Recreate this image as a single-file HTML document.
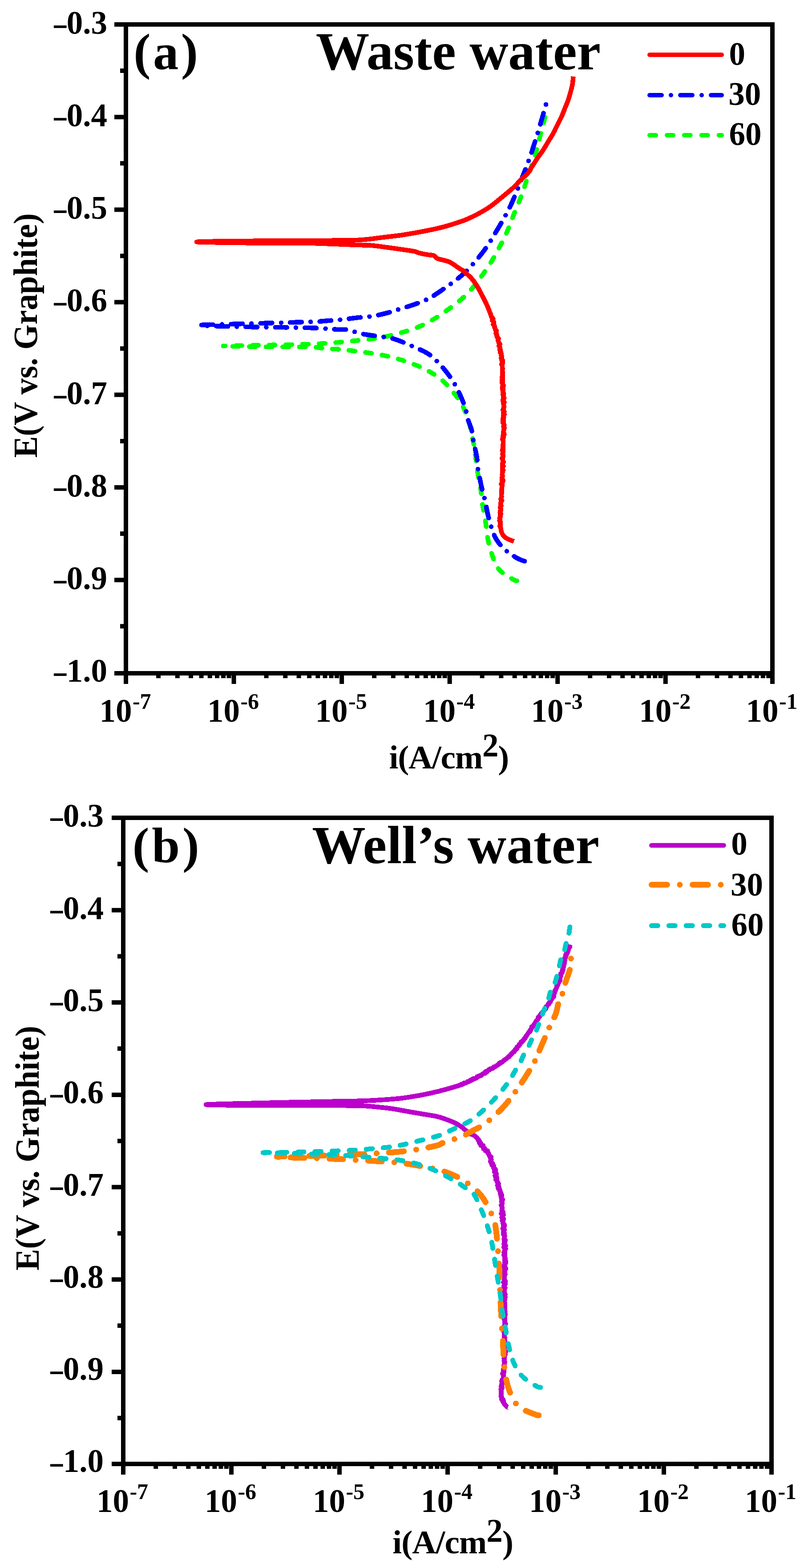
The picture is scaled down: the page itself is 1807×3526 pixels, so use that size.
<!DOCTYPE html>
<html><head><meta charset="utf-8"><title>Potentiodynamic polarization curves</title>
<style>html,body{margin:0;padding:0;background:#fff;overflow:hidden;}body{width:1807px;height:3526px;}svg{display:block;}</style>
</head><body>
<svg width="1807" height="3526" viewBox="0 0 1807 3526" font-family="Liberation Serif, Times New Roman, serif" font-weight="bold">
<rect width="1807" height="3526" fill="#fff"/>
<path d="M1161.8 1306C1160.3 1305.5 1159.5 1307 1152.7 1302.7C1145.9 1298.4 1129 1289.7 1121 1280C1113 1270.3 1109.2 1256.5 1105 1244.8C1100.8 1233 1098.3 1221.8 1096 1209.5C1093.7 1197.2 1092.9 1183.5 1091 1171C1089.1 1158.5 1086.3 1147 1084.5 1134.5C1082.7 1122 1081.9 1108.5 1080 1096C1078.1 1083.5 1075 1072.2 1073 1059.5C1071 1046.8 1069.9 1032.6 1068 1019.5C1066.1 1006.4 1064 993.5 1061.4 981C1058.8 968.5 1056.1 956.2 1052.3 944.5C1048.5 932.8 1044.6 921.5 1038.6 910.5C1032.5 899.5 1024.3 888.5 1016 878.6C1007.7 868.7 998.6 859 988.6 851C978.6 843 967.1 836.4 955.7 830.5C944.4 824.6 932.5 820.1 920.5 815.7C908.5 811.3 896.5 807.6 884 804.3C871.5 801 858.4 798.3 845.5 796C832.6 793.7 819.7 792.4 806.8 790.7C793.9 789 780.9 787.1 768 786C755.1 784.9 740.8 784.8 729.5 783.9C718.2 783 721.6 781.1 700 780.5C678.4 779.9 633 780.3 600 780C567 779.7 518.3 778.8 502 778.5" fill="none" stroke="#00ff00" stroke-width="10.5" stroke-linecap="round" stroke-linejoin="round" stroke-dasharray="13.5 23.9" stroke-dashoffset="0" shape-rendering="crispEdges"/>
<path d="M1225 263.6C1223.5 269.3 1219.2 285.2 1216 297.7C1212.8 310.2 1209.3 325.7 1205.7 338.6C1202.1 351.5 1198.3 362.9 1194.3 375C1190.3 387.1 1185.6 400 1181.8 411C1178 422 1176.1 429.2 1171.6 441C1167.1 452.8 1160.1 469 1155 481.8C1149.9 494.6 1145.9 506.6 1141 518C1136.1 529.4 1131.2 539 1125.5 550C1119.8 561 1113.8 572.7 1107 584C1100.2 595.3 1092 607.4 1084.5 618C1077 628.6 1070.1 638.2 1061.8 647.7C1053.5 657.2 1044.8 666.1 1034.5 675C1024.2 683.9 1010.3 693.7 1000 701C989.7 708.3 982.9 713.2 972.7 719C962.5 724.8 950.7 731.1 938.6 736C926.5 740.9 912.5 745 900 748.6C887.5 752.2 876.1 755.2 863.6 757.7C851.1 760.2 837.9 761.8 825 763.4C812.1 765 799.6 766 786.4 767.3C773.1 768.6 759.9 770 745.5 771C731.1 772 724.2 772.8 700 773.6C675.8 774.4 633 775.3 600 776C567 776.7 518.3 777.7 502 778" fill="none" stroke="#00ff00" stroke-width="10.5" stroke-linecap="round" stroke-linejoin="round" stroke-dasharray="13.5 23.9" stroke-dashoffset="0" shape-rendering="crispEdges"/>
<path d="M1179 1262C1176.1 1260.8 1169.2 1259.4 1161.8 1255C1154.4 1250.6 1142.3 1242.9 1134.5 1235.7C1126.7 1228.5 1120.1 1220.5 1115 1212C1109.9 1203.5 1107.2 1194 1104 1184.5C1100.8 1175 1098.3 1164.8 1096 1155C1093.7 1145.2 1092.3 1135.7 1090 1125.5C1087.7 1115.3 1084.7 1105.7 1082 1093.6C1079.3 1081.5 1075.7 1063.3 1074 1052.7C1072.3 1042.1 1073 1037.1 1072 1030C1071 1022.9 1069.4 1016.7 1068 1010C1066.6 1003.3 1064.9 997.2 1063.6 990C1062.3 982.8 1061.9 974.6 1060 967C1058.1 959.4 1054.7 952.8 1052.3 944.5C1049.9 936.2 1048.4 926.1 1045.5 917C1042.6 907.9 1038.8 898.7 1035 890C1031.2 881.3 1027.4 873.2 1022.7 865C1018 856.8 1012.8 849 1006.8 841C1000.8 833 993.6 824.2 986.4 816.8C979.2 809.4 972.3 802.3 963.6 796.4C954.9 790.5 944.3 786.3 934 781.6C923.7 776.9 911.5 771.6 902 768C892.5 764.4 888 762.3 877 760C866 757.7 847.3 756 836 754.3C824.7 752.6 818 751.9 809 749.8C800 747.7 791.1 743.3 781.8 741.8C772.5 740.3 767 741.5 753.4 740.7C739.8 740 733.9 738.2 700 737.3C666.1 736.3 592.3 735.9 550 735C507.7 734.1 463.3 732.5 446 732" fill="none" stroke="#0000ff" stroke-width="10.5" stroke-linecap="round" stroke-linejoin="round" stroke-dasharray="26 20.2 0 20.2" stroke-dashoffset="0" shape-rendering="crispEdges"/>
<path d="M1227 235C1224.8 242.8 1219.3 263.2 1213.6 282C1207.9 300.8 1200 327.3 1193 347.7C1186 368.1 1179.1 385.6 1171.6 404.5C1164.1 423.4 1156.4 443.6 1148 461.4C1139.6 479.1 1131.6 493.2 1121 511C1110.4 528.8 1098.2 550.2 1084.5 568C1070.8 585.8 1055.3 603.2 1039 618C1022.7 632.8 1000.1 647.5 986.8 656.8C973.5 666.1 969 668.7 959 673.6C949 678.5 937.2 682.4 927 686C916.8 689.6 907.5 692.2 897.7 695.2C887.9 698.2 878.3 701.7 868 704.3C857.7 706.9 847 709.3 836 711C825 712.7 813.3 713.2 802 714.5C790.7 715.8 779.3 717.5 768 718.6C756.7 719.8 745.3 720.6 734 721.4C722.7 722.2 730.7 722.5 700 723.6C669.3 724.7 592.3 726.8 550 728C507.7 729.2 463.3 730.5 446 731" fill="none" stroke="#0000ff" stroke-width="10.5" stroke-linecap="round" stroke-linejoin="round" stroke-dasharray="26 20.2 0 20.2" stroke-dashoffset="46.2" shape-rendering="crispEdges"/>
<path d="M1155 1217.5C1152 1216.2 1141.3 1212.8 1136.8 1209.5C1132.2 1206.2 1129.8 1203.3 1127.7 1198C1125.6 1192.7 1124.9 1184.9 1124.3 1177.7C1123.7 1170.5 1123.9 1164.5 1124.3 1155C1124.7 1145.5 1125.8 1134.2 1126.6 1121C1127.4 1107.8 1128.3 1090.7 1128.9 1075.5C1129.5 1060.3 1129.7 1042.4 1130 1030C1130.3 1017.6 1130.4 1011.5 1130.7 1001C1131 990.5 1131.6 978.3 1131.8 967C1132 955.7 1131.8 944.3 1131.8 933C1131.8 921.7 1132 908.5 1131.8 899C1131.6 889.5 1131.1 885.5 1130.7 876C1130.3 866.5 1129.9 853.3 1129.5 842C1129.1 830.7 1128.9 815.8 1128.4 808C1127.9 800.2 1127.4 800.6 1126.4 795.5C1125.5 790.4 1124.1 783.4 1122.7 777.3C1121.3 771.2 1119.7 765 1118.2 759C1116.7 753 1115.3 747 1113.6 741C1111.9 735 1110.2 728.8 1108.2 722.7C1106.2 716.6 1104.1 710.5 1101.8 704.5C1099.5 698.5 1097.2 692.4 1094.5 686.4C1091.8 680.4 1088.8 674.7 1085.5 668.2C1082.2 661.7 1078.3 653.8 1074.5 647.3C1070.7 640.8 1066.5 634.3 1062.7 629.5C1059 624.7 1055.6 621.9 1052 618.5C1048.4 615.1 1044.8 611.6 1041.3 609C1037.8 606.4 1034.2 604.9 1030.7 602.6C1027.2 600.3 1023.5 597.3 1020 595C1016.5 592.7 1013 590.4 1009.5 588.8C1006 587.2 1003.4 586.8 999 585.6C994.6 584.4 987.1 583.2 983 581.4C978.9 579.5 978 575.9 974.5 574.5C971 573.1 967.4 573.9 961.8 572.9C956.1 571.9 945.9 569.9 940.6 568.6C935.3 567.3 939.8 566.8 930 565C920.2 563.2 897.7 560.2 882 558C866.3 555.8 848.9 553.2 836 552C823.1 550.8 827.2 551.8 804.5 551C781.8 550.2 727.4 547.7 700 547C672.6 546.3 668.3 547.2 640 547C611.7 546.8 563 546.5 530 546C497 545.5 442 544.7 442 544C442 543.3 487 542.5 530 542C573 541.5 654.2 541.4 700 541C745.8 540.6 778 541 804.5 539.8C831 538.6 842.3 535.9 859 534C875.7 532.1 889.3 530.6 904.5 528.4C919.7 526.1 935.8 523.2 950 520.5C964.2 517.8 978.3 514.9 990 512C1001.7 509.1 1010.5 506.4 1020 503.4C1029.5 500.4 1038.2 497.6 1047.3 493.9C1056.4 490.1 1065.4 485.8 1074.5 480.9C1083.6 476 1092.7 470.9 1101.8 464.5C1110.9 458.1 1120 450.2 1129.1 442.7C1138.2 435.2 1149.6 425.9 1156.4 419.5C1163.2 413.1 1165.1 409.4 1170 404.5C1174.9 399.6 1181.7 395 1186 390C1190.3 385 1192.1 380.1 1195.8 374.4C1199.5 368.7 1203.8 361.9 1208 355.7C1212.2 349.5 1217 343.2 1221 337C1225 330.8 1228.5 324.6 1232.2 318.4C1235.9 312.2 1240 306 1243.4 299.8C1246.8 293.6 1249.6 287.4 1252.7 281.2C1255.8 275 1259.2 268.7 1262 262.5C1264.8 256.3 1267 250.1 1269.5 243.9C1272 237.7 1274.7 231.4 1276.9 225.2C1279.1 219 1280.9 212.5 1282.5 206.6C1284.1 200.7 1285.5 195.8 1286.5 190C1287.5 184.2 1288.2 175 1288.6 172" fill="none" stroke="#ff0000" stroke-width="10.5" stroke-linecap="butt" stroke-linejoin="round" shape-rendering="crispEdges"/>
<path d="M1101.4 700.3 1101.3 703.6 1103.1 706.2 1103.1 709.4 1104.1 712.3 1107.4 714.4 1108.6 717.2 1106.2 721.2 1109.5 723.3 1110.5 726.2 1108.2 730.1 1111.3 732.3 1110.6 735.6 1112.9 738.1 1113 741.2 1115.9 743.6 1114.6 747.2 1114.4 750.4 1116.6 753 1116.4 756.2 1117.5 759.2 1120.8 761.6 1118.6 765.4 1120.1 768.2 1122.1 771 1124 773.8 1121.1 777.7 1123.5 780.4 1123.1 783.8 1123.1 787.1 1124.4 790 1124.1 793.1 1126.9 795.4 1125.7 798.8 1128 801.5 1126.2 804.9 1126.7 808.1 1130.3 810.9 1130.3 813.5 1130 816.4 1126.8 819.5 1129.3 822.6 1128.5 825.8 1130 829.1 1129.2 832.4 1129.8 835.7 1130.1 838.9 1129.1 842 1129.2 845.1 1127.9 848.2 1129 851.3 1128 854.5 1128.5 857.7 1128 860.8 1129.5 863.8 1131.8 866.8 1128.9 869.8 1128.5 872.6 1128.9 875.2 1130.5 878.4 1130 881.6 1132.4 884.3 1129.8 887.1 1131.1 889.7 1132.5 892.5 1133.6 895.5 1130.2 899 1129.7 901.6 1133.7 904.3 1130.6 907.2 1132.3 910.2 1133.4 913.2 1132.8 916.4 1130.7 919.5 1130.2 922.7 1133.8 925.8 1131.3 928.9 1133.8 932 1130.8 935 1132.6 938 1130.1 941 1129.7 944 1131.8 947 1129.7 950 1132.7 953 1133.7 956 1131.4 959 1133.9 962 1133.2 965 1132.2 968 1131.2 971 1133.2 974.1 1133.6 977.2 1129.8 980.2 1132.2 983.3 1129.2 986.3 1129.4 989.3 1131.5 992.4 1131.1 995.3 1130.7 998.2 1130.1 1001 1130.2 1004.1 1130.3 1007 1129.9 1009.8 1128.5 1012.5 1130.3 1015.2 1130.6 1018 1129.2 1020.9 1131.3 1024.1 1130.9 1027.5 1127.9 1030.8 1129.8 1033.4 1129.7 1036.2 1132 1039 1130.1 1041.9 1129.3 1045 1131.7 1048.1 1129.1 1051.2 1128.9 1054.4 1131.4 1057.6 1128.8 1060.8 1129.4 1064 1128.4 1067.2 1129.7 1070.4 1128.1 1073.4 1127.8 1076.5 1130.8 1079.7 1130.5 1082.8 1127.7 1085.8 1126.3 1088.9 1129.3 1092.2 1128.2 1095.3 1127.4 1098.4 1128.5 1101.6 1128.1 1104.7 1128.2 1107.7 1127.8 1110.7 1126.6 1113.6 1127.7 1116.5 1127.2 1119.2 1125.3 1122.1 1128.4 1125.7 1125.8 1128.9 1124.8 1132.1 1126.5 1135.4 1126.6 1138.5 1123.8 1141.3 1126.1 1144.4 1126.1 1147.2 1124.9 1149.8 1123.5 1152.4 1126.1 1155.1 1124.9 1158.7 1124.8 1162.1 1122.5 1165.2 1124.2 1168.2 1122.4 1171.1 1125.5 1173.8 1124.9 1176.7 1123.8 1179.9 1123.1 1183.3 1125.4 1186.4 1126.8 1189.4" fill="none" stroke="#ff0000" stroke-width="10" stroke-linejoin="round" shape-rendering="crispEdges"/>
<path d="M1142 3164C1141.4 3163.8 1140.9 3165.8 1138.6 3163C1136.3 3160.2 1130.3 3153.8 1128.4 3147C1126.5 3140.2 1126.6 3129.9 1127 3122C1127.4 3114.1 1129.5 3108.9 1130.7 3099.5C1131.9 3090.1 1133.5 3081.9 1134 3065.5C1134.5 3049.1 1133.9 3021.2 1134 3001C1134.1 2980.8 1134.6 2961.5 1134.5 2944.5C1134.4 2927.5 1133.4 2914.2 1133.4 2899C1133.4 2883.8 1134.3 2868.8 1134.5 2853.6C1134.7 2838.4 1134.7 2821.3 1134.5 2808C1134.3 2794.7 1134.2 2784.4 1133.4 2774C1132.7 2763.6 1130.8 2754.5 1130 2745.5C1129.2 2736.5 1129 2728.2 1128.5 2720C1128 2711.8 1128 2702.4 1127.3 2696.4C1126.6 2690.4 1125.4 2688.3 1124.5 2684C1123.6 2679.7 1122.9 2675 1121.8 2670.5C1120.7 2666 1118.8 2661.4 1117.7 2656.8C1116.6 2652.2 1116.1 2647.8 1115 2643.2C1113.9 2638.6 1112.6 2634 1111 2629.5C1109.4 2625 1107.1 2620.5 1105.5 2616C1103.9 2611.5 1103.5 2607.1 1101.4 2602.3C1099.4 2597.5 1096.2 2591.6 1093.2 2587.3C1090.2 2583 1086.5 2580.5 1083.6 2576.4C1080.6 2572.3 1078.2 2566.3 1075.5 2562.7C1072.8 2559 1070.5 2556.8 1067.3 2554.5C1064.1 2552.2 1060 2551.2 1056.4 2549C1052.8 2546.8 1048.7 2543.5 1045.5 2541C1042.3 2538.5 1041.4 2536.8 1037.3 2534C1033.2 2531.2 1027.1 2527.4 1021 2524.5C1014.9 2521.6 1007.3 2518.8 1000.5 2516.4C993.7 2514 987.6 2511.9 980 2510.2C972.4 2508.5 964.1 2507.5 955 2506C945.9 2504.5 938 2503.2 925.5 2501C913 2498.8 892 2494.8 880 2493C868 2491.2 864.1 2491 853.6 2490C843.1 2489 835.9 2487.5 817 2486.8C798.1 2486.1 776.2 2486.1 740 2486C703.8 2485.9 646.2 2486.3 600 2486C553.8 2485.7 463 2485 463 2484C463 2483 553.8 2481.2 600 2480C646.2 2478.8 703.8 2477.8 740 2477C776.2 2476.2 796.5 2476.2 817 2475.5C837.5 2474.8 849 2473.9 862.7 2473C876.4 2472.1 887.3 2471.3 899 2470C910.7 2468.7 921.7 2466.9 933 2465C944.3 2463.1 955.7 2460.9 967 2458.4C978.3 2455.9 988.8 2453.4 1001 2450C1013.2 2446.6 1028.5 2442.4 1040 2438C1051.5 2433.6 1060.2 2429 1070.3 2423.6C1080.4 2418.2 1091.8 2410.8 1100.6 2405.5C1109.4 2400.2 1115.7 2397.1 1123.3 2391.8C1130.9 2386.5 1138.4 2380.9 1146 2373.6C1153.6 2366.3 1162.5 2355.5 1168.8 2347.9C1175.1 2340.3 1179 2335.1 1184 2328C1189 2320.9 1194 2312.8 1199 2305.5C1204 2298.2 1210.5 2289 1214.2 2284C1217.9 2279 1217.9 2279.9 1221 2275.5C1224.1 2271.1 1229.2 2262.6 1232.7 2257.3C1236.2 2252 1239.1 2248.9 1241.8 2243.6C1244.5 2238.3 1246.6 2231.6 1249 2225.5C1251.4 2219.4 1254.3 2213.4 1256.4 2207.3C1258.5 2201.2 1260 2195.1 1261.8 2189C1263.6 2182.9 1265.8 2177.1 1267.3 2171C1268.8 2164.9 1269.4 2158.2 1271 2152.7C1272.6 2147.2 1275.3 2142.8 1277 2138C1278.7 2133.2 1280.3 2126.3 1281 2124" fill="none" stroke="#bb00cc" stroke-width="10.7" stroke-linecap="butt" stroke-linejoin="round" shape-rendering="crispEdges"/>
<path d="M1073.5 2561.3 1074.9 2564.3 1076.1 2566.9 1076.9 2570.1 1079.6 2572.5 1080.4 2576 1086.4 2575.6 1086.4 2579.5 1086.5 2583.6 1089.9 2584.5 1090.7 2587.8 1096.1 2587.7 1096 2591.4 1098.7 2593.5 1098.6 2597.1 1099.8 2599.9 1104 2601.2 1104.1 2604.8 1104.6 2607.9 1101.8 2611.8 1103.4 2614.5 1107.7 2616.3 1105.4 2620.5 1110.2 2621.9 1108.9 2625.9 1112.7 2627.8 1114.4 2630.5 1110.5 2635 1115.1 2636.9 1115.9 2639.8 1112.3 2643.8 1113.6 2646.8 1117.5 2649.3 1114.2 2653.1 1117.2 2655.8 1117.2 2659 1120.8 2661.2 1117.6 2665.4 1119.9 2667.9 1119.2 2671.2 1120.3 2674.1 1124.3 2676.6 1124.5 2679.8 1126.2 2682.6 1127 2685.5 1128.2 2688 1127.6 2691.2 1126.5 2695.1 1130.3 2697.8 1126.6 2700.8 1128.8 2703.7 1129.1 2706.8 1126.2 2710.2 1128.3 2713.4 1129.4 2716.7 1128.6 2720 1127.5 2723 1131.4 2725.8 1126.2 2729 1131.9 2731.8 1127.8 2735.1 1127.4 2738.2 1132.4 2741 1128.2 2744.6 1131 2747.3 1130.1 2750.4 1133.7 2752.9 1133.9 2755.9 1133.6 2759 1129.5 2762.6 1134.3 2765.2 1131.4 2768.7 1130.7 2772 1130.9 2775.1 1134.5 2777.6 1134.6 2780.4 1133.8 2783.2 1132.4 2786.1 1136.4 2788.9 1132.8 2791.9 1132.6 2795 1132.3 2798.1 1137.1 2801.2 1131.9 2804.6 1136.9 2808 1135.5 2810.7 1133.9 2813.5 1132.2 2816.4 1135.5 2819.3 1132.2 2822.4 1134.4 2825.4 1135.7 2828.5 1135.7 2831.7 1136.5 2834.8 1137.1 2838 1136.6 2841.2 1133.5 2844.3 1131.7 2847.4 1136.5 2850.6 1137.1 2853.6 1131.6 2856.6 1134.2 2859.7 1134.9 2862.7 1135.8 2865.8 1133.6 2868.7 1132.1 2871.7 1134.2 2874.8 1134.3 2877.8 1136.3 2880.9 1131.2 2883.8 1136.3 2887 1133.5 2889.9 1131.5 2892.9 1135.6 2896 1132.1 2899 1130.8 2902 1132.7 2905 1131.8 2908 1135.9 2910.8 1134 2913.7 1135.8 2916.6 1131.9 2919.7 1135.2 2922.5 1134.3 2925.5 1131.3 2928.6 1132.2 2931.6 1131.6 2934.8 1134.7 2937.9 1134.5 2941.1 1133.2 2944.5 1134.6 2947.3 1135.7 2950 1135.1 2952.9 1136.5 2955.7 1135.2 2958.6 1131.6 2961.5 1131.7 2964.5 1133.6 2967.5 1134.3 2970.5 1135.2 2973.6 1136.6 2976.7 1135.5 2979.8 1132.5 2982.9 1132 2986 1134.9 2989.2 1132.4 2992.4 1132.4 2995.6 1132.9 2998.8 1133 3001.9 1132.5 3004.9 1134.8 3007.9 1132.8 3011 1135.3 3014.1 1134.1 3017.3 1132.5 3020.5 1133 3023.8 1135.3 3027 1131.6 3030.3 1133.3 3033.6 1133.7 3036.8 1137 3040 1133.9 3043.2 1135.7 3046.3 1133.2 3049.3 1134.4 3052.3 1132.4 3055.2 1133.3 3057.9 1132.4 3060.6 1135 3063.1 1133.1 3066.9 1132.5 3069.6 1131.8 3072.1 1134.3 3075.9 1131.2 3079 1130.8 3082 1131.5 3085 1129.5 3087.5 1129.3 3090.1 1131.5 3092.9 1131 3096.2 1132.6 3099.8 1128.2 3102.8 1127.1 3105.9 1129.1 3109.4 1127.3 3112 1126.6 3114.8 1126 3117.7 1129 3121.1 1125.3 3123.9 1126.3 3127 1125.8 3130.1 1127.2 3133.3 1126.2 3136.5 1125.5 3139.7 1126.7 3142.7 1126.7 3145.6 1131.3 3147.2 1132 3150.6 1132.3 3154.4 1133.4 3157.9 1137.3 3158.9" fill="none" stroke="#bb00cc" stroke-width="10" stroke-linejoin="round" shape-rendering="crispEdges"/>
<path d="M1034.3 2439.3 1036.9 2437.7 1040.2 2438.6 1042.4 2435.2 1046.1 2435.7 1048.7 2433.9 1050.9 2431.5 1054.4 2431.9 1056.2 2428.9 1059.5 2429 1061.5 2426.3 1064.1 2425 1067.4 2424.8 1070.9 2424.7 1072.2 2420.9 1075 2419.7 1078.5 2419.5 1081.9 2419 1083.8 2416.1 1086.2 2413.9 1090 2414.2 1090.7 2409.4 1094.9 2410.6 1096.2 2407.2 1098.3 2405.2 1100.8 2403.6 1104.1 2402.5 1107.9 2402.7 1109.2 2399 1112.6 2398.9 1115.2 2397.7 1117.1 2395.3 1120 2394.3 1121.4 2391 1123.8 2389.3 1126.5 2388.1 1130 2387.9 1131.7 2385.3 1133.8 2383.2 1136.8 2382.2 1138.8 2379.8 1140.8 2377.3 1144.4 2376.7 1146.6 2374.2 1147.3 2370.9 1150.3 2369.6 1152.3 2367.3 1155.5 2365.9 1157.2 2363.1 1157.9 2359.5 1162.1 2358.9 1161.5 2354.3 1164.3 2352.7 1167.3 2351.4 1167.2 2347.7 1170.2 2346.1 1170.9 2342.4 1174.8 2341.6 1176.9 2339.5 1178 2336.8 1180.6 2335.2 1180.5 2331.6 1183.4 2330.1 1184.9 2327.4 1186.5 2325 1187.8 2322.2 1190.7 2320.6 1192.7 2318.2 1192.8 2314.7 1195.1 2312.5 1194.7 2308.7 1198.6 2307.6 1200.1 2305 1203 2303.1 1204.4 2300 1204.5 2296.1 1206.7 2293.6 1209.5 2291.7 1209.2 2287.7 1212.2 2286.5 1213.1 2283.2 1214.8 2280.7 1216.5 2278.4 1220.3 2278.3 1219.8 2274.6 1221.6 2272.8 1223.7 2270.6 1227.1 2268.9 1226.2 2264.4 1229.2 2262.3 1231.3 2259.9 1234 2258.1 1235.6 2255.2 1237.6 2252.9 1237.4 2249.2 1239.4 2247 1240.8 2244.3 1244 2242.5 1245.5 2239.9 1243.7 2235.8 1244.8 2232.9 1246.1 2230 1247.2 2227 1249.3 2224.5 1250.9 2221.8 1250.9 2218.4 1251.2 2215.2 1253.9 2212.9 1254.9 2210 1256.7 2207.4 1259.1 2205 1259 2201.7 1259.1 2198.6 1260.3 2195.9 1261.4 2193 1259.8 2189.5 1263.9 2187.5 1264.4 2184.3 1265.8 2181.5 1266.4 2178.4 1265.8 2174.9 1266.6 2171.9 1266.2 2168.6 1268.9 2165.9 1267.2 2162.4 1267.8 2159.3 1268.9 2156.3 1269.4 2153.3 1271.1 2150.3 1271.3 2146.8 1272.4 2143.8 1274.2 2141.2 1275.2 2138.4 1277.2 2135.7 1276.9 2131.9 1281.1 2129.4 1280.9 2126.2" fill="none" stroke="#bb00cc" stroke-width="10" stroke-linejoin="round" shape-rendering="crispEdges"/>
<path d="M1211 3182.5C1209.9 3182.3 1210.9 3183.9 1204.5 3181.4C1198.1 3178.9 1181 3173 1172.7 3167.7C1164.4 3162.4 1159 3155.9 1154.5 3149.5C1150 3143.1 1148.2 3136.2 1145.5 3129C1142.8 3121.8 1140.7 3116.6 1138.6 3106.4C1136.5 3096.2 1134.3 3081.8 1133 3067.7C1131.7 3053.6 1131.4 3036.1 1130.5 3021.8C1129.6 3007.5 1128.5 2995.6 1127.7 2982C1126.9 2968.4 1126.2 2954.2 1125.5 2940C1124.8 2925.8 1124.2 2911.6 1123.6 2896.8C1123 2882 1122.8 2865.4 1122 2851C1121.2 2836.6 1120 2823.2 1119 2810.5C1118 2797.8 1117.2 2785.1 1116 2775C1114.8 2764.9 1113.8 2757.4 1112 2750C1110.2 2742.6 1109 2739.4 1105 2730.7C1101 2722 1093.4 2706.4 1088 2697.7C1082.6 2689 1078.5 2684.5 1072.7 2678.6C1066.9 2672.7 1059.8 2667.3 1053 2662.3C1046.2 2657.3 1041.2 2653.4 1031.8 2648.6C1022.4 2643.8 1006.9 2637.2 996.4 2633.6C985.9 2630 981.2 2629.6 968.6 2627C956 2624.4 937.3 2620.4 921 2618C904.7 2615.6 899.5 2614.7 871 2612.7C842.5 2610.7 791.5 2607.8 750 2606C708.5 2604.2 643.3 2602.7 622 2602" fill="none" stroke="#ff8000" stroke-width="13" stroke-linecap="round" stroke-linejoin="round" stroke-dasharray="31 28 0 28" stroke-dashoffset="0" shape-rendering="crispEdges"/>
<path d="M1283.2 2155.5h0.01M1280.6 2180.7L1280.6 2180.7L1280.5 2181.2L1280.3 2181.6L1280.2 2182.1L1280.1 2182.6L1279.9 2183L1279.8 2183.5L1279.6 2184L1279.5 2184.5L1279.4 2184.9L1279.2 2185.4L1279 2185.9L1278.9 2186.4L1278.7 2186.9L1278.6 2187.4L1278.4 2187.9L1278.2 2188.4L1278 2188.9L1277.9 2189.4L1277.7 2189.9L1277.5 2190.4L1277.3 2190.9L1277.2 2191.4L1277 2191.9L1276.8 2192.4L1276.6 2192.9L1276.4 2193.5L1276.2 2194L1276.1 2194.5L1275.9 2195L1275.7 2195.5L1275.5 2196L1275.3 2196.5L1275.1 2197L1274.9 2197.5L1274.8 2198L1274.6 2198.5L1274.4 2199L1274.2 2199.5L1274 2200L1273.9 2200.5L1273.7 2201L1273.5 2201.5L1273.3 2201.9L1273.2 2202.4L1273 2202.9L1272.8 2203.3L1272.7 2203.8L1272.5 2204.3L1272.4 2204.7L1272.2 2205.2L1272.1 2205.6L1271.9 2206.1L1271.8 2206.5L1271.6 2206.9L1271.5 2207.4L1271.4 2207.8L1271.2 2208.2L1271.1 2208.6L1271 2209L1270.8 2209.6L1270.7 2210.2L1270.7 2210.2M1264 2234.6h0.01M1254.4 2258.1L1254.4 2258.4L1254.3 2258.9L1254.1 2259.3L1254 2259.8L1253.9 2260.3L1253.8 2260.8L1253.7 2261.3L1253.6 2261.8L1253.5 2262.3L1253.4 2262.8L1253.3 2263.3L1253.2 2263.8L1253.1 2264.3L1253 2264.8L1252.9 2265.3L1252.8 2265.9L1252.6 2266.4L1252.5 2266.9L1252.4 2267.4L1252.3 2267.9L1252.2 2268.4L1252.1 2268.9L1252 2269.4L1251.9 2269.9L1251.7 2270.5L1251.6 2271L1251.5 2271.5L1251.4 2272L1251.2 2272.5L1251.1 2273L1251 2273.5L1250.9 2274L1250.7 2274.5L1250.6 2275L1250.4 2275.5L1250.3 2276L1250.1 2276.5L1250 2277L1249.8 2277.5L1249.7 2278L1249.5 2278.5L1249.3 2279L1249.2 2279.5L1249 2280L1248.8 2280.5L1248.7 2280.9L1248.5 2281.4L1248.3 2281.8L1248.1 2282.3L1247.9 2282.8L1247.7 2283.2L1247.5 2283.7L1247.4 2284.2L1247.2 2284.6L1247 2285.1L1246.7 2285.6L1246.5 2286L1246.3 2286.5L1246.1 2287L1245.9 2287.4L1245.7 2287.9M1234.5 2310.7h0.01M1224.5 2334L1224.4 2334.3L1224.2 2334.8L1224 2335.2L1223.8 2335.7L1223.6 2336.1L1223.4 2336.6L1223.2 2337.1L1223 2337.5L1222.8 2338L1222.6 2338.5L1222.4 2339L1222.2 2339.5L1222 2340L1221.8 2340.5L1221.5 2340.9L1221.3 2341.4L1221.1 2341.9L1220.9 2342.4L1220.7 2342.9L1220.5 2343.4L1220.3 2343.9L1220 2344.4L1219.8 2344.9L1219.6 2345.4L1219.4 2345.9L1219.2 2346.4L1219 2346.9L1218.7 2347.4L1218.5 2347.9L1218.3 2348.4L1218.1 2348.9L1217.9 2349.4L1217.7 2349.9L1217.5 2350.4L1217.2 2350.9L1217 2351.4L1216.8 2351.9L1216.6 2352.4L1216.4 2352.9L1216.2 2353.3L1216 2353.8L1215.8 2354.3L1215.6 2354.7L1215.4 2355.2L1215.2 2355.7L1215 2356.1L1214.8 2356.6L1214.6 2357L1214.4 2357.4L1214.3 2357.9L1214.1 2358.3L1213.9 2358.7L1213.7 2359.1L1213.5 2359.5L1213.4 2360L1213.2 2360.3L1213 2360.7L1212.9 2361.1L1212.7 2361.5L1212.4 2362.1L1212.2 2362.6M1202.1 2385.9h0.01M1189.6 2408L1189.5 2408.2L1189.2 2408.6L1188.9 2409.1L1188.7 2409.5L1188.4 2409.9L1188.1 2410.4L1187.8 2410.8L1187.6 2411.2L1187.3 2411.7L1187 2412.1L1186.7 2412.6L1186.4 2413L1186.2 2413.5L1185.9 2414L1185.6 2414.4L1185.3 2414.9L1185 2415.3L1184.7 2415.8L1184.4 2416.3L1184.1 2416.7L1183.8 2417.2L1183.5 2417.7L1183.2 2418.1L1182.9 2418.6L1182.6 2419.1L1182.3 2419.5L1182 2420L1181.7 2420.5L1181.4 2420.9L1181.2 2421.4L1180.9 2421.8L1180.6 2422.3L1180.3 2422.8L1180 2423.2L1179.7 2423.7L1179.4 2424.1L1179.1 2424.6L1178.8 2425L1178.5 2425.5L1178.2 2425.9L1177.9 2426.4L1177.7 2426.8L1177.4 2427.3L1177.1 2427.7L1176.8 2428.1L1176.5 2428.6L1176.3 2429L1176 2429.4L1175.7 2429.8L1175.4 2430.2L1175.2 2430.6L1174.9 2431L1174.7 2431.4L1174.4 2431.8L1174.1 2432.2L1173.9 2432.6L1173.6 2433L1173.4 2433.4L1173.2 2433.7L1172.9 2434.1L1172.8 2434.3M1158.2 2455h0.01M1143 2475.4L1142.9 2475.5L1142.6 2475.9L1142.2 2476.3L1141.9 2476.8L1141.6 2477.2L1141.2 2477.6L1140.9 2478.1L1140.5 2478.5L1140.2 2478.9L1139.9 2479.3L1139.5 2479.8L1139.2 2480.2L1138.8 2480.6L1138.5 2481L1138.2 2481.4L1137.8 2481.9L1137.5 2482.3L1137.1 2482.7L1136.8 2483.1L1136.4 2483.5L1136.1 2483.9L1135.8 2484.3L1135.4 2484.7L1135.1 2485.1L1134.7 2485.5L1134.4 2485.9L1134 2486.3L1133.7 2486.7L1133.4 2487.1L1133 2487.5L1132.7 2487.8L1132.3 2488.2L1132 2488.6L1131.7 2489L1131.3 2489.3L1131 2489.7L1130.6 2490.1L1130.3 2490.5L1129.9 2490.8L1129.6 2491.2L1129.2 2491.6L1128.9 2492L1128.5 2492.3L1128.2 2492.7L1127.8 2493.1L1127.4 2493.5L1127.1 2493.9L1126.7 2494.2L1126.3 2494.6L1125.9 2495L1125.6 2495.4L1125.2 2495.7L1124.8 2496.1L1124.4 2496.5L1124 2496.9L1123.7 2497.3L1123.3 2497.6L1122.9 2498L1122.5 2498.4L1122.1 2498.8L1121.7 2499.2L1121.4 2499.5L1121 2499.9L1120.6 2500.3L1120.2 2500.6M1099.7 2519.2h0.01M1077 2535.1L1076.6 2535.3L1076.1 2535.6L1075.7 2535.8L1075.3 2536.1L1074.8 2536.3L1074.4 2536.5L1073.9 2536.8L1073.5 2537L1073.1 2537.3L1072.6 2537.5L1072.2 2537.7L1071.7 2538L1071.3 2538.2L1070.9 2538.4L1070.4 2538.6L1070 2538.9L1069.5 2539.1L1069.1 2539.3L1068.7 2539.5L1068.2 2539.8L1067.8 2540L1067.3 2540.2L1066.9 2540.5L1066.4 2540.7L1066 2540.9L1065.6 2541.1L1065.1 2541.4L1064.7 2541.6L1064.2 2541.8L1063.8 2542.1L1063.3 2542.3L1062.9 2542.5L1062.4 2542.8L1062 2543L1061.6 2543.2L1061.1 2543.5L1060.7 2543.7L1060.2 2544L1059.8 2544.2L1059.4 2544.4L1058.9 2544.7L1058.5 2544.9L1058 2545.2L1057.6 2545.4L1057.2 2545.7L1056.7 2545.9L1056.3 2546.1L1055.9 2546.4L1055.4 2546.6L1055 2546.9L1054.6 2547.1L1054.1 2547.3L1053.7 2547.6L1053.3 2547.8L1052.8 2548.1L1052.4 2548.3L1052 2548.6L1051.5 2548.8L1051.1 2549L1050.6 2549.3L1050.2 2549.5L1049.7 2549.7L1049.3 2550L1048.8 2550.2L1048.4 2550.5L1047.9 2550.7L1047.5 2550.9L1047 2551.2M1021.3 2561.4h0.01M994.9 2570.1L994.9 2570.1L994.4 2570.3L994 2570.5L993.6 2570.7L993.2 2570.9L992.9 2571.1L992.5 2571.3L992.2 2571.4L991.9 2571.6L991.6 2571.8L991.3 2572L991 2572.2L990.7 2572.4L990.4 2572.5L990 2572.7L989.7 2572.9L989.4 2573.1L989 2573.3L988.7 2573.5L988.3 2573.7L987.9 2573.9L987.4 2574.1L986.9 2574.2L986.4 2574.4L985.9 2574.7L985.3 2574.9L984.7 2575.1L984 2575.3L983.3 2575.5L982.6 2575.7L981.8 2575.9L980.9 2576.2L980 2576.4L979.7 2576.5L979.3 2576.6L979 2576.6L978.6 2576.7L978.3 2576.8L977.9 2576.9L977.6 2577L977.2 2577.1L976.8 2577.2L976.4 2577.3L976.1 2577.3L975.7 2577.4L975.3 2577.5L974.9 2577.6L974.5 2577.7L974.1 2577.8L973.6 2577.9L973.2 2578L972.8 2578.1L972.4 2578.2L971.9 2578.3L971.5 2578.4L971.1 2578.5L970.6 2578.6L970.2 2578.7L969.7 2578.8L969.3 2578.9L968.8 2579L968.4 2579.1L967.9 2579.2L967.4 2579.3L967 2579.4L966.5 2579.5L966 2579.6L965.5 2579.7L965 2579.8L964.5 2579.9L964 2580L963.5 2580.1L963.1 2580.2L962.7 2580.3M935.4 2585.2h0.01M907.9 2588.9L907.6 2588.9L907.1 2589L906.7 2589L906.3 2589.1L905.8 2589.1L905.4 2589.2L904.9 2589.2L904.5 2589.3L904 2589.3L903.6 2589.4L903.1 2589.4L902.7 2589.5L902.2 2589.5L901.8 2589.6L901.3 2589.6L900.8 2589.6L900.4 2589.7L899.9 2589.7L899.4 2589.8L898.9 2589.8L898.4 2589.9L897.9 2589.9L897.4 2590L896.9 2590L896.4 2590.1L895.9 2590.1L895.4 2590.1L894.9 2590.2L894.4 2590.2L893.9 2590.3L893.3 2590.3L892.8 2590.4L892.3 2590.4L891.7 2590.5L891.2 2590.5L890.6 2590.6L890 2590.6L889.5 2590.7L888.9 2590.7L888.3 2590.7L887.7 2590.8L887.1 2590.8L886.6 2590.9L886 2590.9L885.3 2591L884.7 2591L884.1 2591.1L883.5 2591.1L882.9 2591.2L882.2 2591.2L881.6 2591.3L880.9 2591.3L880.3 2591.4L879.6 2591.4L878.9 2591.5L878.2 2591.5L877.5 2591.6L876.8 2591.6L876.1 2591.7L875.4 2591.7L874.7 2591.7L874 2591.8M846.4 2593.5h0.01M818.7 2595L818.5 2595L818 2595L817.4 2595.1L816.9 2595.1L816.4 2595.1L815.9 2595.1L815.3 2595.2L814.8 2595.2L814.3 2595.2L813.8 2595.2L813.2 2595.3L812.7 2595.3L812.2 2595.3L811.6 2595.3L811.1 2595.4L810.6 2595.4L810 2595.4L809.5 2595.4L809 2595.5L808.4 2595.5L807.9 2595.5L807.4 2595.6L806.8 2595.6L806.3 2595.6L805.8 2595.6L805.2 2595.7L804.7 2595.7L804.1 2595.7L803.6 2595.7L803.1 2595.8L802.5 2595.8L802 2595.8L801.4 2595.8L800.9 2595.9L800.4 2595.9L799.8 2595.9L799.3 2595.9L798.7 2596L798.2 2596L797.7 2596L797.1 2596L796.6 2596.1L796 2596.1L795.5 2596.1L795 2596.1L794.4 2596.2L793.9 2596.2L793.3 2596.2L792.8 2596.2L792.2 2596.3L791.7 2596.3L791.2 2596.3L790.6 2596.3L790.1 2596.4L789.5 2596.4L789 2596.4L788.4 2596.4L787.9 2596.5L787.4 2596.5L786.8 2596.5L786.3 2596.5L785.7 2596.6L785.2 2596.6L784.7 2596.6M757 2597.7h0.01M729.3 2598.7L729.1 2598.7L728.5 2598.7L728 2598.7L727.4 2598.7L726.8 2598.7L726.3 2598.7L725.7 2598.8L725.2 2598.8L724.6 2598.8L724 2598.8L723.5 2598.8L722.9 2598.8L722.3 2598.9L721.8 2598.9L721.2 2598.9L720.6 2598.9L720.1 2598.9L719.5 2598.9L718.9 2598.9L718.4 2599L717.8 2599L717.2 2599L716.6 2599L716.1 2599L715.5 2599L714.9 2599L714.3 2599.1L713.8 2599.1L713.2 2599.1L712.6 2599.1L712 2599.1L711.4 2599.1L710.9 2599.1L710.3 2599.2L709.7 2599.2L709.1 2599.2L708.5 2599.2L708 2599.2L707.4 2599.2L706.8 2599.2L706.2 2599.3L705.6 2599.3L705.1 2599.3L704.5 2599.3L703.9 2599.3L703.3 2599.3L702.7 2599.3L702.1 2599.4L701.6 2599.4L701 2599.4L700.4 2599.4L699.8 2599.4L699.2 2599.4L698.6 2599.4L698.1 2599.5L697.5 2599.5L696.9 2599.5L696.3 2599.5L695.7 2599.5L695.2 2599.5M667.5 2600.1h0.01M639.8 2600.6L639.4 2600.6L639 2600.6L638.6 2600.7L638.2 2600.7L637.8 2600.7L637.4 2600.7L636.9 2600.7L636.5 2600.7L636.1 2600.7L635.7 2600.7L635.3 2600.7L635 2600.7L634.6 2600.7L634.2 2600.7L633.8 2600.8L633.4 2600.8L633 2600.8L632.7 2600.8L632.3 2600.8L631.9 2600.8L631.6 2600.8L631.2 2600.8L630.8 2600.8L630.5 2600.8L630.1 2600.8L629.8 2600.8L629.4 2600.8L629.1 2600.8L628.8 2600.9L628.4 2600.9L628.1 2600.9L627.8 2600.9L627.4 2600.9L627.1 2600.9L626.8 2600.9L626.5 2600.9L626.2 2600.9L625.9 2600.9L625.6 2600.9L625.3 2600.9L625 2600.9L624.7 2600.9L624.4 2600.9L624.1 2601L623.8 2601L623.6 2601L623.3 2601L623 2601L622.8 2601L622.5 2601L622.3 2601L622 2601" fill="none" stroke="#ff8000" stroke-width="13" stroke-linecap="round" stroke-linejoin="round" shape-rendering="crispEdges"/>
<path d="M1214.8 3120C1213.1 3119.4 1211.3 3120.8 1204.5 3116.6C1197.7 3112.4 1182.2 3103.7 1173.9 3095C1165.6 3086.3 1159.5 3075.3 1154.5 3064.3C1149.5 3053.3 1147 3041.2 1144 3029C1141 3016.8 1139.1 3003.4 1136.8 2991C1134.5 2978.6 1131.9 2966.9 1130 2954.8C1128.1 2942.7 1127.2 2930.4 1125.5 2918.4C1123.8 2906.4 1121.7 2894.7 1119.8 2883C1117.9 2871.3 1115.9 2860.1 1114 2848C1112.1 2835.9 1110.7 2822.8 1108.4 2810.5C1106.2 2798.2 1103.9 2786.4 1100.5 2774C1097.1 2761.6 1092.8 2748.7 1088 2736C1083.2 2723.3 1076.6 2707.3 1072 2698C1067.4 2688.7 1065.4 2684.8 1060.5 2680C1055.6 2675.2 1048.2 2672.6 1042.7 2669C1037.2 2665.4 1033.2 2661.6 1027.7 2658.2C1022.2 2654.8 1017.3 2652.5 1010 2648.6C1002.7 2644.7 994.3 2639.7 984 2635C973.7 2630.3 960 2624.4 948 2620.5C936 2616.6 923.1 2613.7 911.8 2611.4C900.5 2609.1 898.6 2608.7 880 2606.8C861.4 2604.9 830 2602 800 2600C770 2598 734.8 2596.3 700 2595C665.2 2593.7 609.2 2592.5 591 2592" fill="none" stroke="#00c8c8" stroke-width="11" stroke-linecap="round" stroke-linejoin="round" stroke-dasharray="14 24.5" stroke-dashoffset="0" shape-rendering="crispEdges"/>
<path d="M1281 2084.5C1280.4 2088.2 1278.8 2099.9 1277.3 2106.4C1275.8 2112.9 1273.5 2117.6 1271.8 2123.6C1270.1 2129.6 1269.3 2136.8 1267.3 2142.7C1265.3 2148.6 1261.8 2153.1 1260 2159C1258.2 2164.9 1257.9 2171.6 1256.4 2178C1254.9 2184.4 1252.8 2191.1 1251 2197.3C1249.2 2203.6 1247.9 2209.6 1245.5 2215.5C1243.1 2221.4 1238.7 2226.8 1236.4 2232.7C1234.1 2238.6 1234.1 2244.4 1231.8 2251C1229.5 2257.6 1224.9 2266.2 1222.5 2272C1220.1 2277.8 1219.3 2280.5 1217.3 2285.8C1215.3 2291.1 1212.8 2298 1210.5 2304C1208.2 2310 1206.3 2316.2 1203.6 2322C1200.9 2327.8 1197.3 2333.2 1194.5 2338.8C1191.7 2344.4 1190 2349.7 1187 2355.5C1184 2361.3 1179.4 2367.8 1176.4 2373.6C1173.4 2379.4 1171.8 2384.7 1168.8 2390.3C1165.8 2395.9 1161.5 2401.4 1158.2 2407C1154.9 2412.6 1152.3 2418.3 1149 2423.6C1145.7 2428.9 1142.3 2433.7 1138.5 2438.8C1134.7 2443.9 1131.7 2447.8 1126.4 2454C1121.2 2460.2 1114.8 2467.9 1107 2476C1099.2 2484.1 1085.9 2497 1079.5 2502.7C1073.1 2508.4 1072.4 2507 1068.6 2510C1064.8 2513 1061.4 2517.2 1056.4 2520.5C1051.4 2523.8 1044.5 2527.1 1038.6 2530C1032.7 2532.9 1026.9 2535.5 1021 2538.2C1015.1 2540.9 1009.4 2543.7 1003.2 2546.4C997 2549.1 994.7 2551.2 984 2554.5C973.3 2557.8 952.7 2562.6 939 2566C925.3 2569.4 912.9 2572.7 901.6 2575C890.3 2577.3 887.9 2578.2 871 2580C854.1 2581.8 828.5 2584.3 800 2586C771.5 2587.7 734.8 2589 700 2590C665.2 2591 609.2 2591.7 591 2592" fill="none" stroke="#00c8c8" stroke-width="11" stroke-linecap="round" stroke-linejoin="round" stroke-dasharray="14 24.5" stroke-dashoffset="0" shape-rendering="crispEdges"/>
<rect x="283" y="55" width="1453" height="1459" fill="none" stroke="#000" stroke-width="10"/>
<path d="M257 55H283M257 263.2H283M257 471.4H283M257 679.6H283M257 887.8H283M257 1096H283M257 1304.2H283M257 1514H283M270 159.1H283M270 367.3H283M270 575.5H283M270 783.7H283M270 991.9H283M270 1200.1H283M270 1408.3H283M283 1514V1538M356.01 1514V1525M398.73 1514V1525M429.03 1514V1525M452.54 1514V1525M471.74 1514V1525M487.98 1514V1525M502.04 1514V1525M514.45 1514V1525M525.55 1514V1538M598.56 1514V1525M641.28 1514V1525M671.58 1514V1525M695.09 1514V1525M714.29 1514V1525M730.53 1514V1525M744.59 1514V1525M757 1514V1525M768.1 1514V1538M841.11 1514V1525M883.83 1514V1525M914.13 1514V1525M937.64 1514V1525M956.84 1514V1525M973.08 1514V1525M987.14 1514V1525M999.55 1514V1525M1010.65 1514V1538M1083.66 1514V1525M1126.38 1514V1525M1156.68 1514V1525M1180.19 1514V1525M1199.39 1514V1525M1215.63 1514V1525M1229.69 1514V1525M1242.1 1514V1525M1253.2 1514V1538M1326.21 1514V1525M1368.93 1514V1525M1399.23 1514V1525M1422.74 1514V1525M1441.94 1514V1525M1458.18 1514V1525M1472.24 1514V1525M1484.65 1514V1525M1495.75 1514V1538M1568.76 1514V1525M1611.48 1514V1525M1641.78 1514V1525M1665.29 1514V1525M1684.49 1514V1525M1700.73 1514V1525M1714.79 1514V1525M1727.2 1514V1525M1736 1514V1538" stroke="#000" stroke-width="10" fill="none"/>
<rect x="277" y="1839" width="1457" height="1453" fill="none" stroke="#000" stroke-width="10"/>
<path d="M251 1839H277M251 2046.65H277M251 2254.3H277M251 2461.95H277M251 2669.6H277M251 2877.25H277M251 3084.9H277M251 3292H277M264 1942.83H277M264 2150.47H277M264 2358.12H277M264 2565.78H277M264 2773.43H277M264 2981.07H277M264 3188.73H277M277 3292V3316M350.15 3292V3303M392.94 3292V3303M423.3 3292V3303M446.85 3292V3303M466.09 3292V3303M482.36 3292V3303M496.45 3292V3303M508.88 3292V3303M520 3292V3316M593.15 3292V3303M635.94 3292V3303M666.3 3292V3303M689.85 3292V3303M709.09 3292V3303M725.36 3292V3303M739.45 3292V3303M751.88 3292V3303M763 3292V3316M836.15 3292V3303M878.94 3292V3303M909.3 3292V3303M932.85 3292V3303M952.09 3292V3303M968.36 3292V3303M982.45 3292V3303M994.88 3292V3303M1006 3292V3316M1079.15 3292V3303M1121.94 3292V3303M1152.3 3292V3303M1175.85 3292V3303M1195.09 3292V3303M1211.36 3292V3303M1225.45 3292V3303M1237.88 3292V3303M1249 3292V3316M1322.15 3292V3303M1364.94 3292V3303M1395.3 3292V3303M1418.85 3292V3303M1438.09 3292V3303M1454.36 3292V3303M1468.45 3292V3303M1480.88 3292V3303M1492 3292V3316M1565.15 3292V3303M1607.94 3292V3303M1638.3 3292V3303M1661.85 3292V3303M1681.09 3292V3303M1697.36 3292V3303M1711.45 3292V3303M1723.88 3292V3303M1734 3292V3316" stroke="#000" stroke-width="10" fill="none"/>
<text x="241" y="75.7" font-size="73" text-anchor="end"><tspan font-size="52" stroke="#000" stroke-width="2" dy="-2.9">&#8211;</tspan><tspan dx="1.5" dy="2.9">0.3</tspan></text>
<text x="241" y="283.9" font-size="73" text-anchor="end"><tspan font-size="52" stroke="#000" stroke-width="2" dy="-2.9">&#8211;</tspan><tspan dx="1.5" dy="2.9">0.4</tspan></text>
<text x="241" y="492.1" font-size="73" text-anchor="end"><tspan font-size="52" stroke="#000" stroke-width="2" dy="-2.9">&#8211;</tspan><tspan dx="1.5" dy="2.9">0.5</tspan></text>
<text x="241" y="700.3" font-size="73" text-anchor="end"><tspan font-size="52" stroke="#000" stroke-width="2" dy="-2.9">&#8211;</tspan><tspan dx="1.5" dy="2.9">0.6</tspan></text>
<text x="241" y="908.5" font-size="73" text-anchor="end"><tspan font-size="52" stroke="#000" stroke-width="2" dy="-2.9">&#8211;</tspan><tspan dx="1.5" dy="2.9">0.7</tspan></text>
<text x="241" y="1116.7" font-size="73" text-anchor="end"><tspan font-size="52" stroke="#000" stroke-width="2" dy="-2.9">&#8211;</tspan><tspan dx="1.5" dy="2.9">0.8</tspan></text>
<text x="241" y="1324.9" font-size="73" text-anchor="end"><tspan font-size="52" stroke="#000" stroke-width="2" dy="-2.9">&#8211;</tspan><tspan dx="1.5" dy="2.9">0.9</tspan></text>
<text x="241" y="1533.1" font-size="73" text-anchor="end"><tspan font-size="52" stroke="#000" stroke-width="2" dy="-2.9">&#8211;</tspan><tspan dx="1.5" dy="2.9">1.0</tspan></text>
<text x="233" y="1859.3" font-size="73" text-anchor="end"><tspan font-size="52" stroke="#000" stroke-width="2" dy="-2.9">&#8211;</tspan><tspan dx="1.5" dy="2.9">0.3</tspan></text>
<text x="233" y="2066.6" font-size="73" text-anchor="end"><tspan font-size="52" stroke="#000" stroke-width="2" dy="-2.9">&#8211;</tspan><tspan dx="1.5" dy="2.9">0.4</tspan></text>
<text x="233" y="2273.9" font-size="73" text-anchor="end"><tspan font-size="52" stroke="#000" stroke-width="2" dy="-2.9">&#8211;</tspan><tspan dx="1.5" dy="2.9">0.5</tspan></text>
<text x="233" y="2481.2" font-size="73" text-anchor="end"><tspan font-size="52" stroke="#000" stroke-width="2" dy="-2.9">&#8211;</tspan><tspan dx="1.5" dy="2.9">0.6</tspan></text>
<text x="233" y="2688.5" font-size="73" text-anchor="end"><tspan font-size="52" stroke="#000" stroke-width="2" dy="-2.9">&#8211;</tspan><tspan dx="1.5" dy="2.9">0.7</tspan></text>
<text x="233" y="2895.8" font-size="73" text-anchor="end"><tspan font-size="52" stroke="#000" stroke-width="2" dy="-2.9">&#8211;</tspan><tspan dx="1.5" dy="2.9">0.8</tspan></text>
<text x="233" y="3103.1" font-size="73" text-anchor="end"><tspan font-size="52" stroke="#000" stroke-width="2" dy="-2.9">&#8211;</tspan><tspan dx="1.5" dy="2.9">0.9</tspan></text>
<text x="233" y="3310.4" font-size="73" text-anchor="end"><tspan font-size="52" stroke="#000" stroke-width="2" dy="-2.9">&#8211;</tspan><tspan dx="1.5" dy="2.9">1.0</tspan></text>
<text x="281.5" y="1622.5" font-size="73" text-anchor="middle">10<tspan font-size="50" dx="1.5" dy="-29">-7</tspan></text>
<text x="524.05" y="1622.5" font-size="73" text-anchor="middle">10<tspan font-size="50" dx="1.5" dy="-29">-6</tspan></text>
<text x="766.6" y="1622.5" font-size="73" text-anchor="middle">10<tspan font-size="50" dx="1.5" dy="-29">-5</tspan></text>
<text x="1009.15" y="1622.5" font-size="73" text-anchor="middle">10<tspan font-size="50" dx="1.5" dy="-29">-4</tspan></text>
<text x="1251.7" y="1622.5" font-size="73" text-anchor="middle">10<tspan font-size="50" dx="1.5" dy="-29">-3</tspan></text>
<text x="1494.25" y="1622.5" font-size="73" text-anchor="middle">10<tspan font-size="50" dx="1.5" dy="-29">-2</tspan></text>
<text x="1734.5" y="1622.5" font-size="73" text-anchor="middle">10<tspan font-size="50" dx="1.5" dy="-29">-1</tspan></text>
<text x="275" y="3399.5" font-size="73" text-anchor="middle">10<tspan font-size="50" dx="1.5" dy="-29">-7</tspan></text>
<text x="518" y="3399.5" font-size="73" text-anchor="middle">10<tspan font-size="50" dx="1.5" dy="-29">-6</tspan></text>
<text x="761" y="3399.5" font-size="73" text-anchor="middle">10<tspan font-size="50" dx="1.5" dy="-29">-5</tspan></text>
<text x="1004" y="3399.5" font-size="73" text-anchor="middle">10<tspan font-size="50" dx="1.5" dy="-29">-4</tspan></text>
<text x="1247" y="3399.5" font-size="73" text-anchor="middle">10<tspan font-size="50" dx="1.5" dy="-29">-3</tspan></text>
<text x="1490" y="3399.5" font-size="73" text-anchor="middle">10<tspan font-size="50" dx="1.5" dy="-29">-2</tspan></text>
<text x="1732" y="3399.5" font-size="73" text-anchor="middle">10<tspan font-size="50" dx="1.5" dy="-29">-1</tspan></text>
<text x="874.55" y="1728" font-size="75" textLength="269.75" lengthAdjust="spacing">i(A/cm<tspan dy="-26.6" font-size="73">2</tspan><tspan dy="26.6">)</tspan></text>
<text x="882.35" y="3493.3" font-size="75" textLength="271.55" lengthAdjust="spacing">i(A/cm<tspan dy="-26.6" font-size="73">2</tspan><tspan dy="26.6">)</tspan></text>
<text transform="translate(82.9 1029.2) rotate(-90)" x="0" y="0" font-size="76" textLength="549.54" lengthAdjust="spacingAndGlyphs">E(V vs. Graphite)</text>
<text transform="translate(87.2 2857) rotate(-90)" x="0" y="0" font-size="76" textLength="550.34" lengthAdjust="spacingAndGlyphs">E(V vs. Graphite)</text>
<text x="300.16" y="155" font-size="114.7" textLength="144.88" lengthAdjust="spacing">(a)</text>
<text x="709.69" y="155.5" font-size="120.5" textLength="640.3" lengthAdjust="spacing">Waste water</text>
<text x="297.73" y="1938.5" font-size="113" textLength="149.93" lengthAdjust="spacing">(b)</text>
<text x="701.29" y="1941" font-size="120.5" textLength="645.7" lengthAdjust="spacing">Well’s water</text>
<path d="M1460 123.2H1622" stroke="#ff0000" stroke-width="10" stroke-linecap="round" fill="none"/>
<text x="1638.62" y="146.3" font-size="73">0</text>
<path d="M1460 214H1622" stroke="#0000ff" stroke-width="10" stroke-linecap="round" fill="none" stroke-dasharray="27 21 0 21"/>
<text x="1637.26" y="235.7" font-size="73">30</text>
<path d="M1460 304H1622" stroke="#00ff00" stroke-width="10" stroke-linecap="round" fill="none" stroke-dasharray="14 24.9"/>
<text x="1638.5" y="326" font-size="73">60</text>
<path d="M1464.4 1901H1626.5" stroke="#bb00cc" stroke-width="10.7" stroke-linecap="round" fill="none"/>
<text x="1643.22" y="1921.8" font-size="73">0</text>
<path d="M1464.4 1989.5H1626.5" stroke="#ff8000" stroke-width="13" stroke-linecap="round" fill="none" stroke-dasharray="35 28.5 0 28.5"/>
<text x="1642.06" y="2013.8" font-size="73">30</text>
<path d="M1464.4 2081.5H1626.5" stroke="#00c8c8" stroke-width="11" stroke-linecap="round" fill="none" stroke-dasharray="14 24.9"/>
<text x="1643.5" y="2104.3" font-size="73">60</text>
</svg>
</body></html>
